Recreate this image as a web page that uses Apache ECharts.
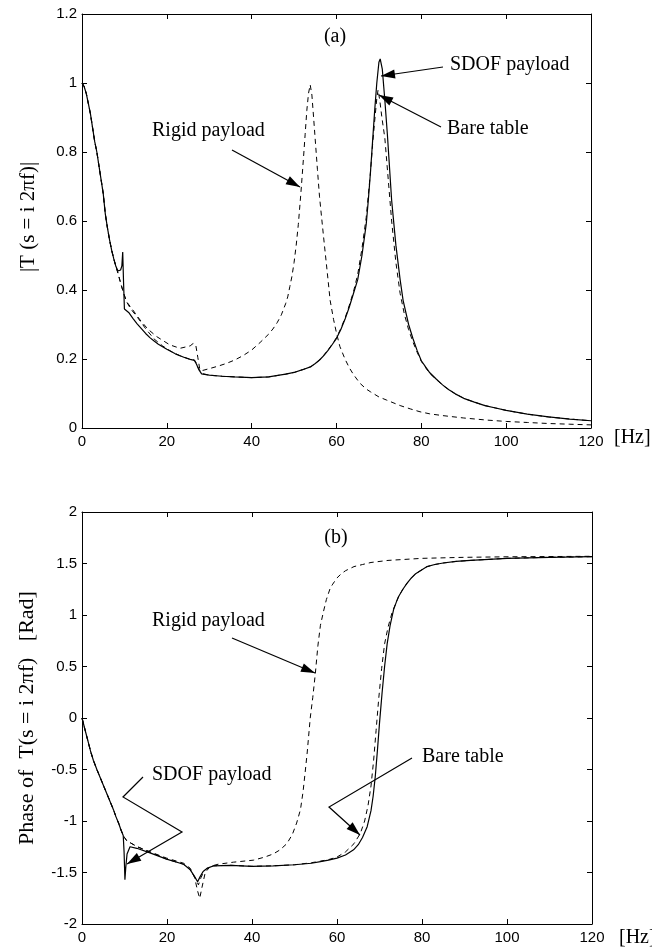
<!DOCTYPE html>
<html>
<head>
<meta charset="utf-8">
<script src="https://cdn.jsdelivr.net/npm/echarts@6/dist/echarts.min.js"></script>
<style>
html,body{margin:0;padding:0;background:#fff;}
#chart{width:652px;height:947px;}
</style>
</head>
<body>
<div id="chart"></div>
<script>
// ---------- data (frequency [Hz], value) ----------
const magSdof = [[0,1.0],[0.5,0.99],[1,0.97],[1.5,0.94],[2,0.91],[2.5,0.87],[3,0.83],[3.5,0.80],[4,0.76],[4.5,0.72],[5,0.68],[5.5,0.62],[6,0.58],[6.5,0.545],[7,0.515],[7.5,0.49],[8,0.468],[8.5,0.455],[8.8,0.452],[9.1,0.458],[9.4,0.47],[9.6,0.51],[9.8,0.42],[10.0,0.345],[10.3,0.340],[11,0.335],[12,0.318],[13,0.302],[14,0.288],[15,0.274],[16,0.262],[17,0.252],[18,0.243],[20,0.228],[22,0.215],[24,0.205],[25.5,0.199],[26.5,0.196],[27,0.185],[27.5,0.170],[28.2,0.157],[30,0.153],[33,0.150],[36,0.148],[40,0.146],[44,0.148],[48,0.156],[50,0.161],[52,0.169],[54,0.178],[55,0.187],[56,0.197],[57,0.21],[58,0.225],[59,0.242],[60,0.26],[61,0.285],[62,0.315],[63,0.35],[64,0.39],[65,0.43],[66,0.50],[67,0.59],[67.5,0.66],[68,0.74],[68.5,0.83],[69,0.92],[69.5,1.00],[70,1.06],[70.3,1.07],[70.8,1.04],[71.4,0.95],[72,0.85],[73,0.66],[74,0.53],[75,0.43],[75.7,0.37],[77,0.30],[78,0.26],[79,0.225],[80,0.195],[81,0.177],[82,0.16],[83.5,0.142],[85,0.125],[86.5,0.111],[88,0.099],[90,0.086],[92.5,0.075],[95,0.065],[97.5,0.058],[100,0.051],[105,0.040],[110,0.032],[115,0.026],[120,0.021]];
const magBare = [[0,1.0],[0.5,0.99],[1,0.97],[1.5,0.94],[2,0.91],[2.5,0.87],[3,0.83],[3.5,0.80],[4,0.76],[4.5,0.72],[5,0.68],[5.5,0.62],[6,0.58],[6.5,0.545],[7,0.515],[7.5,0.49],[8,0.468],[8.5,0.448],[9,0.425],[9.7,0.395],[10.5,0.366],[11.5,0.345],[13,0.322],[15,0.288],[17,0.258],[19,0.238],[21,0.222],[23,0.21],[25,0.201],[26.5,0.197],[27,0.187],[27.5,0.172],[28.2,0.158],[30,0.153],[33,0.150],[36,0.148],[40,0.146],[44,0.148],[48,0.156],[50,0.161],[52,0.169],[54,0.178],[55,0.187],[56,0.197],[57,0.211],[58,0.226],[59,0.243],[60,0.262],[61,0.288],[62,0.318],[63,0.355],[64,0.395],[65,0.445],[66,0.52],[67,0.61],[68,0.74],[68.5,0.82],[69,0.89],[69.5,0.955],[69.8,0.98],[70.2,0.95],[70.7,0.90],[71.4,0.84],[72.2,0.72],[73,0.60],[74,0.48],[75,0.39],[76,0.33],[77,0.285],[78,0.25],[79,0.22],[80,0.193],[81,0.175],[82,0.158],[83.5,0.141],[85,0.124],[86.5,0.111],[88,0.099],[90,0.086],[92.5,0.075],[95,0.065],[97.5,0.058],[100,0.051],[105,0.040],[110,0.032],[115,0.026],[120,0.021]];
const magRigid = [[0,1.0],[0.5,0.99],[1,0.97],[1.5,0.94],[2,0.91],[2.5,0.87],[3,0.83],[3.5,0.80],[4,0.76],[4.5,0.72],[5,0.68],[5.5,0.62],[6,0.58],[6.5,0.545],[7,0.515],[7.5,0.49],[8,0.468],[8.5,0.448],[9,0.425],[9.7,0.395],[10.5,0.366],[11.7,0.347],[13.7,0.313],[15.5,0.287],[17.6,0.265],[20.7,0.241],[23.1,0.231],[25.5,0.238],[26.2,0.245],[26.8,0.242],[27.3,0.205],[27.8,0.168],[28.5,0.167],[30,0.172],[32,0.179],[34,0.187],[36,0.197],[38,0.21],[40,0.226],[42,0.248],[44,0.272],[45,0.287],[46,0.305],[47,0.328],[48,0.36],[48.5,0.38],[49,0.41],[49.5,0.44],[50,0.48],[50.5,0.53],[51,0.59],[51.6,0.68],[52.2,0.78],[52.6,0.85],[53,0.92],[53.4,0.97],[53.8,0.995],[54.2,0.965],[54.6,0.9],[54.9,0.85],[55.5,0.75],[56,0.67],[56.9,0.56],[58,0.43],[58.5,0.37],[59.3,0.315],[60,0.275],[60.8,0.236],[62,0.20],[63,0.175],[64,0.155],[65.5,0.13],[67,0.113],[68,0.105],[70,0.09],[71.8,0.081],[75,0.065],[77.5,0.055],[79.7,0.047],[82,0.041],[85,0.036],[90,0.029],[95.4,0.023],[100,0.019],[105,0.016],[110,0.013],[115,0.011],[120,0.009]];

const phSdof = [[0,0],[0.5,-0.08],[1,-0.16],[1.5,-0.24],[2,-0.32],[2.67,-0.41],[3.5,-0.5],[4.2,-0.57],[5,-0.65],[5.8,-0.73],[6.6,-0.81],[7.4,-0.89],[8,-0.96],[8.6,-1.02],[9.2,-1.09],[9.7,-1.14],[9.9,-1.3],[10.1,-1.57],[10.3,-1.45],[10.6,-1.32],[11.3,-1.25],[12.9,-1.265],[16,-1.31],[19.9,-1.37],[23.9,-1.42],[25.4,-1.47],[26.5,-1.54],[27.2,-1.59],[27.8,-1.54],[28.5,-1.49],[29.4,-1.46],[31,-1.435],[35,-1.43],[40,-1.44],[45,-1.435],[50,-1.425],[54,-1.41],[56.1,-1.395],[58,-1.38],[60,-1.36],[62,-1.33],[63.9,-1.28],[65,-1.23],[66,-1.16],[67.1,-1.055],[68,-0.9],[68.5,-0.76],[69,-0.57],[69.5,-0.32],[70,-0.05],[70.6,0.24],[71.2,0.5],[71.8,0.72],[72.5,0.9],[73.3,1.05],[74,1.13],[74.5,1.18],[75.5,1.25],[76.5,1.31],[77.5,1.36],[78.5,1.40],[80,1.44],[81.2,1.47],[83,1.49],[85,1.505],[88,1.52],[91.4,1.53],[100,1.55],[110,1.56],[120,1.566]];
const phBare = [[0,0],[0.5,-0.08],[1,-0.16],[1.5,-0.24],[2,-0.32],[2.67,-0.41],[3.5,-0.5],[4.2,-0.57],[5,-0.65],[5.8,-0.73],[6.6,-0.81],[7.4,-0.89],[8,-0.96],[8.6,-1.02],[9.2,-1.09],[9.7,-1.14],[10,-1.16],[10.5,-1.19],[11.3,-1.21],[13,-1.25],[16,-1.30],[19.9,-1.37],[23.9,-1.42],[25.4,-1.47],[26.6,-1.55],[27.4,-1.62],[28,-1.55],[28.8,-1.48],[29.8,-1.45],[31,-1.435],[35,-1.43],[40,-1.44],[45,-1.435],[50,-1.425],[54,-1.405],[56.1,-1.39],[58,-1.375],[60,-1.35],[62,-1.30],[64,-1.22],[65.5,-1.12],[66.5,-1.0],[67.3,-0.85],[68,-0.66],[68.6,-0.42],[69.2,-0.12],[69.8,0.18],[70.5,0.48],[71.2,0.72],[72,0.88],[73,1.03],[74,1.13],[74.5,1.18],[75.5,1.25],[76.5,1.31],[77.5,1.36],[78.5,1.40],[80,1.44],[81.2,1.47],[83,1.49],[85,1.505],[88,1.52],[91.4,1.53],[100,1.55],[110,1.56],[120,1.566]];
const phRigid = [[0,0],[0.5,-0.08],[1,-0.16],[1.5,-0.24],[2,-0.32],[2.67,-0.41],[3.5,-0.5],[4.2,-0.57],[5,-0.65],[5.8,-0.73],[6.6,-0.81],[7.4,-0.89],[8,-0.96],[8.6,-1.02],[9.2,-1.09],[9.7,-1.14],[10,-1.16],[10.5,-1.19],[11.3,-1.21],[13,-1.25],[16,-1.30],[19.9,-1.36],[23.9,-1.41],[25.5,-1.46],[26.5,-1.55],[27.2,-1.68],[27.7,-1.75],[28.2,-1.65],[29,-1.50],[30.2,-1.44],[32,-1.42],[35.6,-1.40],[40.4,-1.38],[43,-1.35],[45,-1.32],[46.6,-1.28],[48.2,-1.22],[49.5,-1.13],[50.5,-1.02],[51.4,-0.89],[52,-0.72],[52.5,-0.53],[53,-0.33],[53.7,0],[54.3,0.2],[54.9,0.43],[55.5,0.7],[56.1,0.9],[56.8,1.03],[57.5,1.15],[58.4,1.26],[59,1.3],[60,1.36],[61,1.40],[62,1.43],[64,1.47],[66,1.49],[68,1.51],[72,1.53],[80,1.55],[90,1.56],[100,1.565],[120,1.57]];

const xTicks = {min: 0, max: 120, interval: 20};
const magTicks = {min: 0, max: 1.2, interval: 0.2};
const phTicks = {min: -2, max: 2, interval: 0.5};

// ---------- chart ----------
const SERIF = '"Liberation Serif", "Times New Roman", serif';
const SANS = '"Liberation Sans", Arial, sans-serif';
const chart = echarts.init(document.getElementById('chart'), null, {renderer: 'canvas'});

function xAx(grid, pos, showLabel) {
  return Object.assign({
    type: 'value', gridIndex: grid, position: pos,
    axisLine: {show: true, onZero: false, lineStyle: {color: '#000', width: 1}},
    axisTick: {show: true, inside: true, length: 5, lineStyle: {color: '#000'}},
    axisLabel: {show: showLabel, color: '#000', fontFamily: SANS, fontSize: 15, margin: 6},
    splitLine: {show: false}
  }, xTicks);
}
function yAx(grid, pos, showLabel, ticks) {
  return Object.assign({
    type: 'value', gridIndex: grid, position: pos,
    axisLine: {show: true, onZero: false, lineStyle: {color: '#000', width: 1}},
    axisTick: {show: true, inside: true, length: 5, lineStyle: {color: '#000'}},
    axisLabel: {show: showLabel, color: '#000', fontFamily: SANS, fontSize: 15, margin: 5},
    splitLine: {show: false}
  }, ticks);
}
function line(data, xi, yi, dashed) {
  return {
    type: 'line', data: data, xAxisIndex: xi, yAxisIndex: yi,
    showSymbol: false, symbol: 'none', smooth: false, silent: true,
    lineStyle: {color: '#000', width: dashed ? 1 : 1.2, type: dashed ? [5, 4] : 'solid'}
  };
}

function txt(x, y, s, align) {
  return {
    type: 'text', x: x, y: y, silent: true,
    style: {text: s, fill: '#000', font: '20px ' + SERIF, textAlign: align || 'left', textVerticalAlign: 'middle'}
  };
}
function arrowHead(x1, y1, x2, y2) {
  const a = Math.atan2(y2 - y1, x2 - x1), L = 14, W = 4.5;
  const bx = x2 - L * Math.cos(a), by = y2 - L * Math.sin(a);
  const px = -Math.sin(a) * W, py = Math.cos(a) * W;
  return {type: 'polygon', silent: true, shape: {points: [[x2, y2], [bx + px, by + py], [bx - px, by - py]]}, style: {fill: '#000'}};
}
function arrow(pts) {
  const n = pts.length;
  return [
    {type: 'polyline', silent: true, shape: {points: pts}, style: {stroke: '#000', lineWidth: 1.2, fill: null}},
    arrowHead(pts[n - 2][0], pts[n - 2][1], pts[n - 1][0], pts[n - 1][1])
  ];
}

const graphics = [
  txt(335, 37, '(a)', 'center'),
  txt(450, 65, 'SDOF payload'),
  txt(447, 129, 'Bare table'),
  txt(152, 131, 'Rigid payload'),
  txt(614, 438, '[Hz]'),
  ...arrow([[443, 67], [381, 76]]),
  ...arrow([[441, 127], [379, 95]]),
  ...arrow([[232, 150], [300, 187]]),
  txt(336, 538, '(b)', 'center'),
  txt(152, 621, 'Rigid payload'),
  txt(152, 775, 'SDOF payload'),
  txt(422, 757, 'Bare table'),
  txt(619, 938, '[Hz]'),
  ...arrow([[232, 638], [315, 673]]),
  ...arrow([[143, 777], [123, 797], [182, 832], [127, 864]]),
  ...arrow([[412, 758], [329, 807], [360, 835]]),
  {type: 'text', x: 28, y: 217, rotation: Math.PI / 2, silent: true,
   style: {text: '|T (s = i 2\u03c0f)|', fill: '#000', font: '21px ' + SERIF, textAlign: 'center', textVerticalAlign: 'middle'}},
  {type: 'text', x: 27, y: 718, rotation: Math.PI / 2, silent: true,
   style: {text: 'Phase of  T(s = i 2\u03c0f)   [Rad]', fill: '#000', font: '22px ' + SERIF, textAlign: 'center', textVerticalAlign: 'middle'}}
];

chart.setOption({
  animation: false,
  backgroundColor: '#fff',
  grid: [
    {left: 82, top: 14, width: 509, height: 414},
    {left: 82, top: 512, width: 510, height: 412}
  ],
  xAxis: [xAx(0, 'bottom', true), xAx(0, 'top', false), xAx(1, 'bottom', true), xAx(1, 'top', false)],
  yAxis: [yAx(0, 'left', true, magTicks), yAx(0, 'right', false, magTicks), yAx(1, 'left', true, phTicks), yAx(1, 'right', false, phTicks)],
  series: [
    line(magSdof, 0, 0, false),
    line(magBare, 0, 0, true),
    line(magRigid, 0, 0, true),
    line(phSdof, 2, 2, false),
    line(phBare, 2, 2, true),
    line(phRigid, 2, 2, true)
  ],
  graphic: graphics
});
</script>
</body>
</html>
